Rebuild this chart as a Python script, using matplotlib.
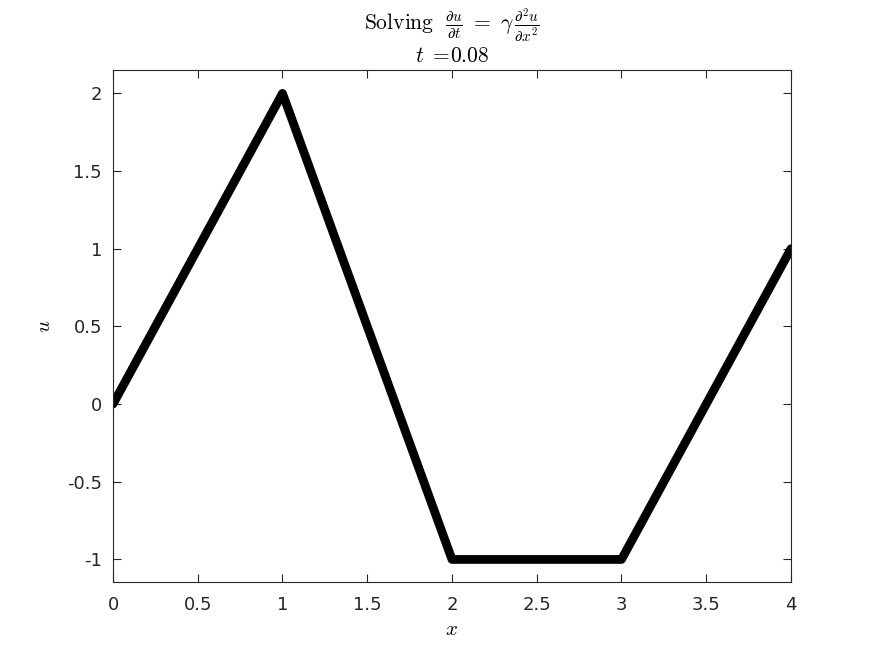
import matplotlib
matplotlib.use("Agg")
import matplotlib.pyplot as plt

plt.rcParams.update({"font.family": ["DejaVu Sans"], "mathtext.fontset": "cm", "font.size": 10.5})

x = [0, 1, 2, 3, 4]
u = [0, 2, -1, -1, 1]
t_now = "0.08"
XTICKS = [0, 0.5, 1, 1.5, 2, 2.5, 3, 3.5, 4]
YTICKS = [-1, -0.5, 0, 0.5, 1, 1.5, 2]

fig = plt.figure(figsize=(8.74, 6.55), dpi=100)
ax = fig.add_axes([0.1293, 0.1115, 0.7757, 0.7815])
ax.plot(x, u, color="black", lw=6.3, solid_joinstyle="round", solid_capstyle="round")
ax.set_xlim(0, 4)
ax.set_ylim(-1.145, 2.15)
ax.set_xticks(XTICKS)
ax.set_xticklabels([f"{v:g}" for v in XTICKS])
ax.set_yticks(YTICKS)
ax.set_yticklabels([f"{v:g}" for v in YTICKS])
ax.tick_params(direction="in", top=True, right=True, length=6, width=0.8,
               labelsize=13, colors="#262626")
ax.tick_params(axis="x", pad=10)
ax.tick_params(axis="y", pad=8)
for s in ax.spines.values():
    s.set_linewidth(0.8)
    s.set_color("#262626")
ax.set_xlabel("$x$", fontsize=15, labelpad=4)
ax.set_ylabel("$u$", fontsize=15, labelpad=9)
title = (r"$\mathrm{Solving}\ \ \frac{\partial u}{\partial t}\ =\ \gamma\,\frac{\partial^2 u}{\partial x^2}$"
         + "\n" + r"$t\ =\!\mathrm{" + t_now + "}$")
ax.set_title(title, fontsize=15.5, pad=6, linespacing=1.05)
fig.savefig("out.png", dpi=100, facecolor="white")
